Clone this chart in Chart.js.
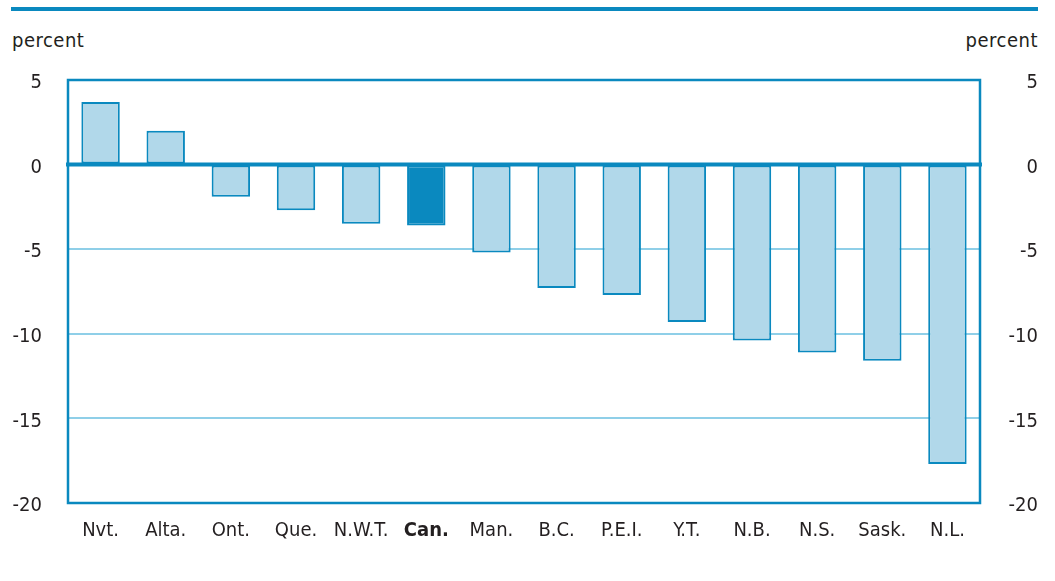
<!DOCTYPE html>
<html>
<head>
<meta charset="utf-8">
<script src="https://cdn.jsdelivr.net/npm/chart.js@4/dist/chart.umd.min.js"></script>
<style>
  html, body { margin: 0; padding: 0; background: #fff; }
  #wrap { position: relative; width: 1055px; height: 581px; overflow: hidden; }
  #topline { position: absolute; left: 11px; top: 7px; width: 1027px; height: 4px; background: #0a89bf; }
  .unit { position: absolute; top: 28px; font-family: "DejaVu Sans Condensed", sans-serif; font-size: 20px; color: #231f20; letter-spacing: 0.5px; }
  #unitL { left: 12px; }
  #unitR { right: 17px; }
  canvas { position: absolute; left: 0; top: 0; }
</style>
</head>
<body>
<div id="wrap">
  <div id="topline"></div>
  <div class="unit" id="unitL">percent</div>
  <div class="unit" id="unitR">percent</div>
  <canvas id="c" width="1055" height="581"></canvas>
</div>
<script>
const categories = ["Nvt.", "Alta.", "Ont.", "Que.", "N.W.T.", "Can.", "Man.", "B.C.", "P.E.I.", "Y.T.", "N.B.", "N.S.", "Sask.", "N.L."];
const values = [3.7, 2.0, -1.9, -2.7, -3.5, -3.6, -5.2, -7.3, -7.7, -9.3, -10.4, -11.1, -11.6, -17.7];
const highlight = "Can.";
const yTicks = [5, 0, -5, -10, -15, -20];

const DARK = "#0a89bf";
const LIGHT = "#b1d8ea";
const GRID = "#8fcfe8";
const TEXT = "#231f20";
const FONT = "'DejaVu Sans Condensed', sans-serif";

const frame = {
  id: 'frame',
  afterDatasetsDraw(chart) {
    const a = chart.chartArea, c = chart.ctx;
    c.save();
    c.strokeStyle = DARK;
    c.lineWidth = 2.5;
    c.strokeRect(a.left, a.top, a.right - a.left, a.bottom - a.top);
    const y0 = chart.scales.y.getPixelForValue(0);
    c.lineWidth = 4;
    c.beginPath();
    c.moveTo(a.left - 2, y0);
    c.lineTo(a.right + 2, y0);
    c.stroke();
    c.restore();
  }
};

new Chart(document.getElementById('c'), {
  type: 'bar',
  data: {
    labels: categories,
    datasets: [{
      data: values,
      backgroundColor: categories.map(c => c === highlight ? DARK : LIGHT),
      borderColor: DARK,
      borderWidth: 2,
      borderSkipped: false,
      barPercentage: 0.59,
      categoryPercentage: 1.0
    }]
  },
  options: {
    responsive: false,
    animation: false,
    events: [],
    layout: { padding: { left: 10, right: 17, top: 80, bottom: 22 } },
    plugins: { legend: { display: false }, tooltip: { enabled: false }, title: { display: false } },
    scales: {
      x: {
        grid: { display: false, drawTicks: false },
        border: { display: false },
        ticks: {
          padding: 16,
          color: TEXT,
          font: (ctx) => ({ family: FONT, size: 20, weight: categories[ctx.index] === highlight ? 'bold' : 'normal' })
        }
      },
      y: {
        position: 'left',
        min: -20, max: 5,
        afterBuildTicks: (s) => { s.ticks = yTicks.map(v => ({ value: v })); },
        afterFit: (s) => { s.width = 58; },
        grid: {
          drawTicks: false,
          color: (ctx) => (ctx.tick && [-5, -10, -15].includes(ctx.tick.value)) ? GRID : 'rgba(0,0,0,0)',
          lineWidth: 2
        },
        border: { display: false },
        ticks: { padding: 26, labelOffset: 3, color: TEXT, font: { family: FONT, size: 20 } }
      },
      y2: {
        position: 'right',
        min: -20, max: 5,
        afterBuildTicks: (s) => { s.ticks = yTicks.map(v => ({ value: v })); },
        afterFit: (s) => { s.width = 58; },
        grid: { display: false, drawTicks: false },
        border: { display: false },
        ticks: { padding: 11, labelOffset: 3, crossAlign: 'far', color: TEXT, font: { family: FONT, size: 20 } }
      }
    }
  },
  plugins: [frame]
});
</script>
</body>
</html>
